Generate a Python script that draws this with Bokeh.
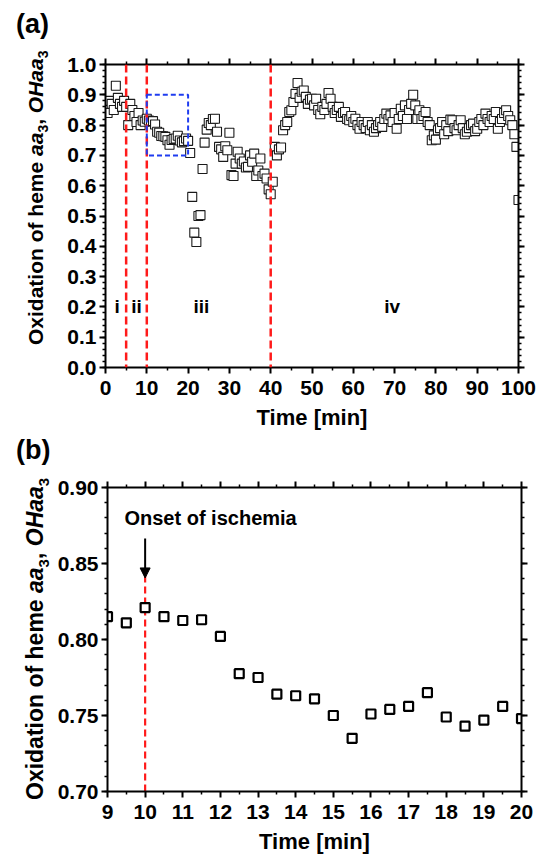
from bokeh.plotting import figure
from bokeh.models import (FixedTicker, PrintfTickFormatter, LinearAxis, Range1d,
                          Span, BoxAnnotation, Arrow, NormalHead, Label, Div)
from bokeh.layouts import column, row
from bokeh.embed import file_html
from bokeh.resources import INLINE
from bokeh.core.properties import value

FONT = "Liberation Sans"

# ---------------- data: panel (a), 0-100 min every 0.5 min ----------------
time_a = [
    0.0, 0.5, 1.0, 1.5, 2.0, 2.5, 3.0, 3.5, 4.0, 4.5,
    5.0, 5.5, 6.0, 6.5, 7.0, 7.5, 8.0, 8.5, 9.0, 9.5,
    10.0, 10.5, 11.0, 11.5, 12.0, 12.5, 13.0, 13.5, 14.0, 14.5,
    15.0, 15.5, 16.0, 16.5, 17.0, 17.5, 18.0, 18.5, 19.0, 19.5,
    20.0, 20.5, 21.0, 21.5, 22.0, 22.5, 23.0, 23.5, 24.0, 24.5,
    25.0, 25.5, 26.0, 26.5, 27.0, 27.5, 28.0, 28.5, 29.0, 29.5,
    30.0, 30.5, 31.0, 31.5, 32.0, 32.5, 33.0, 33.5, 34.0, 34.5,
    35.0, 35.5, 36.0, 36.5, 37.0, 37.5, 38.0, 38.5, 39.0, 39.5,
    40.0, 40.5, 41.0, 41.5, 42.0, 42.5, 43.0, 43.5, 44.0, 44.5,
    45.0, 45.5, 46.0, 46.5, 47.0, 47.5, 48.0, 48.5, 49.0, 49.5,
    50.0, 50.5, 51.0, 51.5, 52.0, 52.5, 53.0, 53.5, 54.0, 54.5,
    55.0, 55.5, 56.0, 56.5, 57.0, 57.5, 58.0, 58.5, 59.0, 59.5,
    60.0, 60.5, 61.0, 61.5, 62.0, 62.5, 63.0, 63.5, 64.0, 64.5,
    65.0, 65.5, 66.0, 66.5, 67.0, 67.5, 68.0, 68.5, 69.0, 69.5,
    70.0, 70.5, 71.0, 71.5, 72.0, 72.5, 73.0, 73.5, 74.0, 74.5,
    75.0, 75.5, 76.0, 76.5, 77.0, 77.5, 78.0, 78.5, 79.0, 79.5,
    80.0, 80.5, 81.0, 81.5, 82.0, 82.5, 83.0, 83.5, 84.0, 84.5,
    85.0, 85.5, 86.0, 86.5, 87.0, 87.5, 88.0, 88.5, 89.0, 89.5,
    90.0, 90.5, 91.0, 91.5, 92.0, 92.5, 93.0, 93.5, 94.0, 94.5,
    95.0, 95.5, 96.0, 96.5, 97.0, 97.5, 98.0, 98.5, 99.0, 99.5,
    100.0,
]
oxidation_a = [
    0.860, 0.840, 0.880, 0.870, 0.850, 0.930, 0.890, 0.870, 0.860, 0.880,
    0.860, 0.800, 0.870, 0.850, 0.830, 0.810, 0.840, 0.800, 0.815, 0.811,
    0.821, 0.815, 0.813, 0.813, 0.802, 0.778, 0.775, 0.764, 0.763, 0.761,
    0.750, 0.735, 0.751, 0.754, 0.756, 0.765, 0.749, 0.743, 0.747, 0.756,
    0.748, 0.708, 0.563, 0.445, 0.414, 0.500, 0.503, 0.655, 0.742, 0.785,
    0.807, 0.800, 0.820, 0.821, 0.778, 0.728, 0.720, 0.695, 0.730, 0.717,
    0.775, 0.635, 0.632, 0.673, 0.712, 0.690, 0.673, 0.680, 0.660, 0.662,
    0.700, 0.679, 0.706, 0.632, 0.650, 0.690, 0.632, 0.640, 0.624, 0.588,
    0.572, 0.613, 0.728, 0.700, 0.720, 0.726, 0.783, 0.800, 0.810, 0.843,
    0.849, 0.876, 0.903, 0.939, 0.890, 0.910, 0.914, 0.893, 0.870, 0.884,
    0.887, 0.865, 0.887, 0.850, 0.836, 0.860, 0.850, 0.870, 0.906, 0.887,
    0.860, 0.840, 0.850, 0.860, 0.827, 0.840, 0.843, 0.820, 0.816, 0.830,
    0.810, 0.821, 0.800, 0.788, 0.810, 0.800, 0.790, 0.810, 0.783, 0.800,
    0.778, 0.790, 0.800, 0.810, 0.794, 0.820, 0.838, 0.820, 0.832, 0.810,
    0.840, 0.788, 0.820, 0.854, 0.830, 0.865, 0.820, 0.850, 0.870, 0.900,
    0.865, 0.820, 0.849, 0.820, 0.830, 0.843, 0.810, 0.800, 0.750, 0.766,
    0.752, 0.783, 0.790, 0.810, 0.770, 0.800, 0.780, 0.818, 0.816, 0.790,
    0.783, 0.800, 0.816, 0.790, 0.770, 0.778, 0.790, 0.800, 0.805, 0.780,
    0.788, 0.810, 0.820, 0.800, 0.838, 0.820, 0.810, 0.830, 0.820, 0.843,
    0.788, 0.810, 0.820, 0.840, 0.849, 0.830, 0.816, 0.800, 0.770, 0.728,
    0.553,
]
phase_bounds_a = [5, 10, 40]
phase_names = ["i", "ii", "iii", "iv"]
phase_label_x = [2.8, 7.5, 23.2, 69.4]
phase_label_y = [0.2, 0.2, 0.2, 0.2]
zoom_box = dict(left=10, right=20, bottom=0.70, top=0.90)

# ---------------- data: panel (b), 9-20 min ----------------
time_b = [9.0, 9.5, 10.0, 10.5, 11.0, 11.5, 12.0, 12.5, 13.0, 13.5, 14.0, 14.5,
          15.0, 15.5, 16.0, 16.5, 17.0, 17.5, 18.0, 18.5, 19.0, 19.5, 20.0]
oxidation_b = [0.815, 0.811, 0.821, 0.815, 0.8125, 0.813, 0.802, 0.7775, 0.775, 0.764,
               0.763, 0.761, 0.750, 0.735, 0.751, 0.754, 0.756, 0.765, 0.749, 0.743,
               0.747, 0.756, 0.748]
onset_b = 10
onset_text = "Onset of ischemia"

# tick labels
ticks_a_x = [0, 10, 20, 30, 40, 50, 60, 70, 80, 90, 100]
minor_a_x = [5, 15, 25, 35, 45, 55, 65, 75, 85, 95]
ticks_a_y = [0.0, 0.1, 0.2, 0.3, 0.4, 0.5, 0.6, 0.7, 0.8, 0.9, 1.0]
minor_a_y = [round(0.02 * i, 2) for i in range(51)]
ticks_b_x = [9, 10, 11, 12, 13, 14, 15, 16, 17, 18, 19, 20]
minor_b_x = [9.5 + i for i in range(11)]
ticks_b_y = [0.70, 0.75, 0.80, 0.85, 0.90]
minor_b_y = [round(0.70 + 0.01 * i, 2) for i in range(21)]

RED = "#ff1a1a"
BLUE = "#1f3cf0"

H_A, H_B = 432, 425
W_LAB, W_MAIN = 54, 483


def style_axis(ax, show_labels, fmt, ticks, minor, standoff=6):
    ax.ticker = FixedTicker(ticks=ticks, minor_ticks=minor)
    ax.formatter = PrintfTickFormatter(format=fmt)
    ax.axis_line_width = 2
    ax.axis_line_color = "black"
    ax.major_tick_line_width = 2
    ax.major_tick_line_color = "black"
    ax.minor_tick_line_width = 1.5
    ax.minor_tick_line_color = "black"
    ax.major_tick_out = 6
    ax.major_tick_in = 0
    ax.minor_tick_out = 3
    ax.minor_tick_in = 0
    ax.major_label_text_font = FONT
    ax.major_label_text_font_style = "bold"
    if show_labels:
        ax.major_label_text_font_size = "21px"
        ax.major_label_text_color = "black"
        ax.major_label_standoff = standoff
    else:
        ax.major_label_text_font_size = "1px"
        ax.major_label_text_color = None
        ax.major_label_standoff = 0


def set_xtitle(ax, text):
    ax.axis_label = text
    ax.axis_label_text_font = FONT
    ax.axis_label_text_font_style = "bold"
    ax.axis_label_text_font_size = "22px"
    ax.axis_label_text_color = "black"
    ax.axis_label_text_line_height = 0.9
    ax.major_label_text_line_height = 0.9
    ax.axis_label_standoff = 7


def make_fig(w, h, xr, yr, bl, br, bt, bb):
    p = figure(width=w, height=h, x_range=Range1d(*xr), y_range=Range1d(*yr),
               output_backend="svg", toolbar_location=None,
               min_border_left=bl, min_border_right=br, min_border_top=bt, min_border_bottom=bb)
    p.grid.visible = False
    p.outline_line_color = None
    p.background_fill_color = "white"
    p.border_fill_color = "white"
    p.add_layout(LinearAxis(), "above")
    p.add_layout(LinearAxis(), "right")
    return p


def label_div(h, tag, tag_top, ylab_left, ylab_top, size, sub):
    html = (
        f'<div style="position:relative;width:{W_LAB}px;height:{h}px;overflow:visible;'
        f"font-family:'{FONT}';font-weight:bold;color:black;\">"
        f'<div style="position:absolute;left:16px;top:{tag_top}px;font-size:27px;'
        f'line-height:1.15;white-space:nowrap;">{tag}</div>'
        f'<div style="position:absolute;left:{ylab_left}px;top:{ylab_top}px;font-size:{size}px;'
        f'line-height:1.15;white-space:nowrap;transform:rotate(-90deg);transform-origin:0 0;">'
        f'Oxidation of heme <i>aa</i><sub style="font-size:{sub}px;">3</sub>, '
        f'<i>OHaa</i><sub style="font-size:{sub}px;">3</sub></div></div>'
    )
    return Div(text=html, width=W_LAB, height=h, margin=0)


# ---------------- panel (a) ----------------
pa = make_fig(W_MAIN, H_A, (0, 100), (0, 1.0), 51, 19, 64, 64)
style_axis(pa.below[0], True, "%d", ticks_a_x, minor_a_x, 7)
style_axis(pa.above[0], False, "%d", ticks_a_x, minor_a_x)
style_axis(pa.left[0], True, "%.1f", ticks_a_y, minor_a_y, 3)
style_axis(pa.right[0], False, "%.1f", ticks_a_y, minor_a_y)
set_xtitle(pa.below[0], "Time [min]")

pa.scatter(time_a, oxidation_a, marker="square", size=9, fill_color="white",
           line_color="#1a1a1a", line_width=1.1)
for b in phase_bounds_a:
    pa.add_layout(Span(location=b, dimension="height", line_color=RED,
                       line_dash="8 4", line_width=2.5))
pa.add_layout(BoxAnnotation(**zoom_box, fill_alpha=0, fill_color=None, line_color=BLUE,
                            line_dash="5 3", line_width=2, line_alpha=1))
pa.text(x=phase_label_x, y=phase_label_y, text=phase_names, text_font=value(FONT),
        text_font_style="bold", text_font_size="19px", text_align="center",
        text_baseline="middle", text_color="black")

la = label_div(H_A, "(a)", 9, 24, 345, 21, 14)

# ---------------- panel (b) ----------------
pb = make_fig(W_MAIN, H_B, (9, 20), (0.70, 0.90), 52, 16, 55, 66)
style_axis(pb.below[0], True, "%d", ticks_b_x, minor_b_x, 7)
style_axis(pb.above[0], False, "%d", ticks_b_x, minor_b_x)
style_axis(pb.left[0], True, "%.2f", ticks_b_y, minor_b_y, 3)
style_axis(pb.right[0], False, "%.2f", ticks_b_y, minor_b_y)
set_xtitle(pb.below[0], "Time [min]")

pb.segment(x0=[onset_b], y0=[0.70], x1=[onset_b], y1=[0.842], line_color=RED,
           line_dash="7 4", line_width=2.2)
pb.scatter(time_b, oxidation_b, marker="square", size=9, fill_color="white",
           line_color="black", line_width=2.2)
pb.add_layout(Label(x=9.45, y=0.880, text=onset_text, text_font=FONT,
                    text_font_style="bold", text_font_size="20px",
                    text_baseline="alphabetic", text_color="black"))
pb.add_layout(Arrow(x_start=onset_b, y_start=0.8665, x_end=onset_b, y_end=0.8405,
                    line_width=2, line_color="black",
                    end=NormalHead(size=10, fill_color="black", line_color="black")))

lb = label_div(H_B, "(b)", 3, 22, 368, 23, 15)

layout = column(row(la, pa, spacing=0), row(lb, pb, spacing=0), spacing=0)
open("out.html", "w").write(file_html(layout, INLINE))
